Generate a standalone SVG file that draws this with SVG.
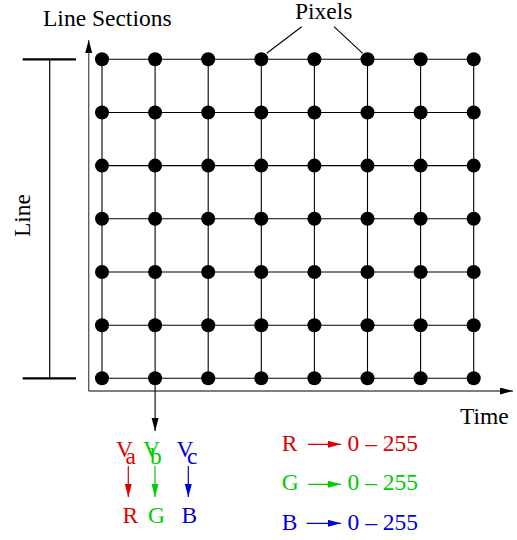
<svg xmlns="http://www.w3.org/2000/svg" xmlns:xlink="http://www.w3.org/1999/xlink" width="517" height="540" viewBox="0 0 517 540">
<style>
text{font-family:"Liberation Serif","Times New Roman",serif;font-size:23.5px}
.k{fill:#000}.r{fill:#dd0000}.g{fill:#00cc00}.b{fill:#0000dd}
.grid line{stroke:#000;stroke-width:1.1}
.ax{stroke:#555;stroke-width:1.3;fill:none}
.br{stroke:#000;stroke-width:2.2}
.thin{stroke:#000;stroke-width:1.1}
</style>
<defs>
<circle id="dot" r="7" fill="#000"/>
<marker id="ak" markerUnits="userSpaceOnUse" markerWidth="14" markerHeight="8" refX="13" refY="3.5" orient="auto"><path d="M0,0 L13,3.5 L0,7 Z" fill="#000"/></marker>
<marker id="ar" markerUnits="userSpaceOnUse" markerWidth="14" markerHeight="8" refX="13" refY="3.5" orient="auto"><path d="M0,0 L13,3.5 L0,7 Z" fill="#dd0000"/></marker>
<marker id="ag" markerUnits="userSpaceOnUse" markerWidth="14" markerHeight="8" refX="13" refY="3.5" orient="auto"><path d="M0,0 L13,3.5 L0,7 Z" fill="#00cc00"/></marker>
<marker id="ab" markerUnits="userSpaceOnUse" markerWidth="14" markerHeight="8" refX="13" refY="3.5" orient="auto"><path d="M0,0 L13,3.5 L0,7 Z" fill="#0000dd"/></marker>
</defs>
<rect width="517" height="540" fill="#fff"/>
<g id="connectors">
<g class="grid">
<line x1="102" y1="59.3" x2="473.7" y2="59.3"/>
<line x1="102" y1="112.5" x2="473.7" y2="112.5"/>
<line x1="102" y1="165.6" x2="473.7" y2="165.6"/>
<line x1="102" y1="218.8" x2="473.7" y2="218.8"/>
<line x1="102" y1="272" x2="473.7" y2="272"/>
<line x1="102" y1="325.2" x2="473.7" y2="325.2"/>
<line x1="102" y1="378.3" x2="473.7" y2="378.3"/>
<line x1="102" y1="59.3" x2="102" y2="378.3"/>
<line x1="155.1" y1="59.3" x2="155.1" y2="378.3"/>
<line x1="208.2" y1="59.3" x2="208.2" y2="378.3"/>
<line x1="261.3" y1="59.3" x2="261.3" y2="378.3"/>
<line x1="314.4" y1="59.3" x2="314.4" y2="378.3"/>
<line x1="367.5" y1="59.3" x2="367.5" y2="378.3"/>
<line x1="420.6" y1="59.3" x2="420.6" y2="378.3"/>
<line x1="473.7" y1="59.3" x2="473.7" y2="378.3"/>
</g>
<path class="ax" d="M88.7,391 V40" marker-end="url(#ak)"/>
<path class="ax" d="M88.7,391 H513" marker-end="url(#ak)"/>
<line class="thin" x1="155.1" y1="378.3" x2="155.1" y2="431" marker-end="url(#ak)"/>
<line class="thin" x1="301.7" y1="26.7" x2="266.7" y2="53.3"/>
<line class="thin" x1="334" y1="26.7" x2="362.7" y2="53.3"/>
<g class="br"><line x1="22.7" y1="59.3" x2="76" y2="59.3"/><line x1="22.7" y1="378.3" x2="76" y2="378.3"/><line x1="49.7" y1="59.3" x2="49.7" y2="378.3" style="stroke-width:1.2"/></g>
<line x1="128.3" y1="466" x2="128.3" y2="497" stroke="#dd0000" stroke-width="1.2" marker-end="url(#ar)"/>
<line x1="155" y1="466" x2="155" y2="497" stroke="#00cc00" stroke-width="1.2" marker-end="url(#ag)"/>
<line x1="188.3" y1="466" x2="188.3" y2="497" stroke="#0000dd" stroke-width="1.2" marker-end="url(#ab)"/>
<line x1="308" y1="444.3" x2="341" y2="444.3" stroke="#dd0000" stroke-width="1.2" marker-end="url(#ar)"/>
<line x1="308" y1="484.3" x2="341" y2="484.3" stroke="#00cc00" stroke-width="1.2" marker-end="url(#ag)"/>
<line x1="306.7" y1="523.3" x2="341" y2="523.3" stroke="#0000dd" stroke-width="1.2" marker-end="url(#ab)"/>
</g>
<g id="pixels">
<g id="px-r0"><use xlink:href="#dot" x="102" y="59.3"/><use xlink:href="#dot" x="155.1" y="59.3"/><use xlink:href="#dot" x="208.2" y="59.3"/><use xlink:href="#dot" x="261.3" y="59.3"/><use xlink:href="#dot" x="314.4" y="59.3"/><use xlink:href="#dot" x="367.5" y="59.3"/><use xlink:href="#dot" x="420.6" y="59.3"/><use xlink:href="#dot" x="473.7" y="59.3"/></g>
<g id="px-r1"><use xlink:href="#dot" x="102" y="112.5"/><use xlink:href="#dot" x="155.1" y="112.5"/><use xlink:href="#dot" x="208.2" y="112.5"/><use xlink:href="#dot" x="261.3" y="112.5"/><use xlink:href="#dot" x="314.4" y="112.5"/><use xlink:href="#dot" x="367.5" y="112.5"/><use xlink:href="#dot" x="420.6" y="112.5"/><use xlink:href="#dot" x="473.7" y="112.5"/></g>
<g id="px-r2"><use xlink:href="#dot" x="102" y="165.6"/><use xlink:href="#dot" x="155.1" y="165.6"/><use xlink:href="#dot" x="208.2" y="165.6"/><use xlink:href="#dot" x="261.3" y="165.6"/><use xlink:href="#dot" x="314.4" y="165.6"/><use xlink:href="#dot" x="367.5" y="165.6"/><use xlink:href="#dot" x="420.6" y="165.6"/><use xlink:href="#dot" x="473.7" y="165.6"/></g>
<g id="px-r3"><use xlink:href="#dot" x="102" y="218.8"/><use xlink:href="#dot" x="155.1" y="218.8"/><use xlink:href="#dot" x="208.2" y="218.8"/><use xlink:href="#dot" x="261.3" y="218.8"/><use xlink:href="#dot" x="314.4" y="218.8"/><use xlink:href="#dot" x="367.5" y="218.8"/><use xlink:href="#dot" x="420.6" y="218.8"/><use xlink:href="#dot" x="473.7" y="218.8"/></g>
<g id="px-r4"><use xlink:href="#dot" x="102" y="272"/><use xlink:href="#dot" x="155.1" y="272"/><use xlink:href="#dot" x="208.2" y="272"/><use xlink:href="#dot" x="261.3" y="272"/><use xlink:href="#dot" x="314.4" y="272"/><use xlink:href="#dot" x="367.5" y="272"/><use xlink:href="#dot" x="420.6" y="272"/><use xlink:href="#dot" x="473.7" y="272"/></g>
<g id="px-r5"><use xlink:href="#dot" x="102" y="325.2"/><use xlink:href="#dot" x="155.1" y="325.2"/><use xlink:href="#dot" x="208.2" y="325.2"/><use xlink:href="#dot" x="261.3" y="325.2"/><use xlink:href="#dot" x="314.4" y="325.2"/><use xlink:href="#dot" x="367.5" y="325.2"/><use xlink:href="#dot" x="420.6" y="325.2"/><use xlink:href="#dot" x="473.7" y="325.2"/></g>
<g id="px-r6"><use xlink:href="#dot" x="102" y="378.3"/><use xlink:href="#dot" x="155.1" y="378.3"/><use xlink:href="#dot" x="208.2" y="378.3"/><use xlink:href="#dot" x="261.3" y="378.3"/><use xlink:href="#dot" x="314.4" y="378.3"/><use xlink:href="#dot" x="367.5" y="378.3"/><use xlink:href="#dot" x="420.6" y="378.3"/><use xlink:href="#dot" x="473.7" y="378.3"/></g>
</g>
<g id="labels">
<text class="k" x="43" y="26">Line Sections</text>
<text class="k" x="295" y="19">Pixels</text>
<text class="k" x="460" y="424">Time</text>
<text class="k" transform="translate(30,215.5) rotate(-90)" text-anchor="middle">Line</text>
</g>
<g id="voltages">
<text class="r" x="116" y="457">V<tspan dx="-5" dy="7">a</tspan></text>
<text class="g" x="143" y="457">V<tspan dx="-10" dy="7">b</tspan></text>
<text class="b" x="176.5" y="457">V<tspan dx="-6.5" dy="7">c</tspan></text>
</g>
<g id="channels">
<text class="r" x="122.5" y="523">R</text>
<text class="g" x="148" y="523">G</text>
<text class="b" x="181.5" y="523">B</text>
</g>
<g id="ranges">
<text class="r" x="281.7" y="451">R</text><text class="r" x="347.5" y="451">0 – 255</text>
<text class="g" x="281.7" y="490">G</text><text class="g" x="347.5" y="490">0 – 255</text>
<text class="b" x="281.7" y="530">B</text><text class="b" x="347.5" y="530">0 – 255</text>
</g>
</svg>
